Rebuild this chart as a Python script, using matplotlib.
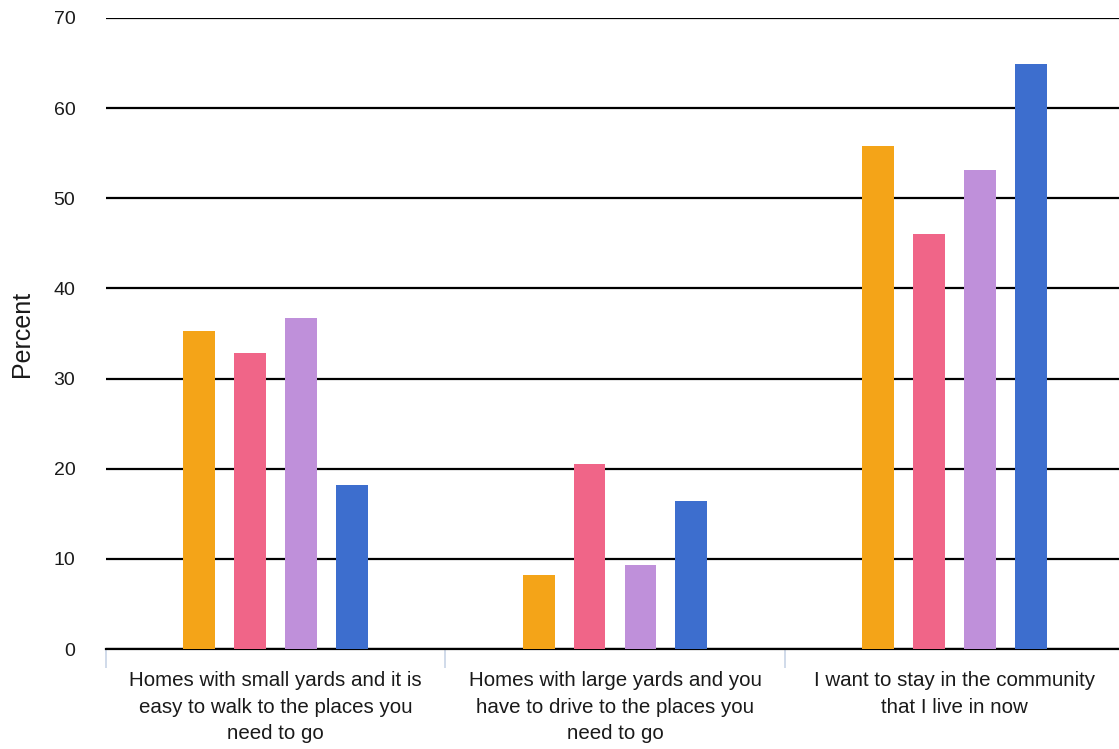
import numpy as np
import matplotlib
matplotlib.use("Agg")
import matplotlib.pyplot as plt

plt.rcParams['font.family'] = ['Liberation Sans', 'DejaVu Sans']

# Data
categories = [
    "Homes with small yards and it is\neasy to walk to the places you\nneed to go",
    "Homes with large yards and you\nhave to drive to the places you\nneed to go",
    "I want to stay in the community\nthat I live in now",
]
series_1 = [35.3, 8.2, 55.8]
series_2 = [32.8, 20.5, 46.0]
series_3 = [36.7, 9.3, 53.1]
series_4 = [18.2, 16.4, 64.9]
yticks = [0, 10, 20, 30, 40, 50, 60, 70]

colors = ["#F4A418", "#F06588", "#BF90DA", "#3D6ECE"]

fig = plt.figure(figsize=(11.19, 7.49), dpi=100)
# axis runs a little past the right edge of the figure
ax = fig.add_axes([106 / 1119, 1 - 649 / 749, (1124 - 106) / 1119, (649 - 18) / 749])

x = np.arange(len(categories))
width = 0.094
step = 0.15
for j, (vals, c) in enumerate(zip([series_1, series_2, series_3, series_4], colors)):
    ax.bar(x + (j - 1.5) * step, vals, width, color=c, zorder=3)

# gridlines
ax.set_ylim(0, 70)
ax.set_yticks(yticks)
ax.yaxis.grid(True, color="black", linewidth=1.6, zorder=1)
ax.set_axisbelow(True)

ax.set_xlim(-0.5, len(categories) - 0.5)
ax.set_xticks(x)
ax.set_xticklabels(categories, fontsize=14.8, linespacing=1.5, color="#1a1a1a")
ax.set_xticks(np.arange(len(categories)) - 0.5, minor=True)
ax.tick_params(axis="x", which="major", length=0, pad=16)
ax.tick_params(axis="x", which="minor", length=14, width=1.2, color="#C8D4E6", direction="out")
ax.tick_params(axis="y", length=0, pad=22, labelsize=14, labelcolor="#1a1a1a")

for s in ["top", "right", "left"]:
    ax.spines[s].set_visible(False)
ax.spines["bottom"].set_color("black")
ax.spines["bottom"].set_linewidth(1.6)

ax.set_ylabel("Percent", fontsize=18, color="#1a1a1a")
ax.yaxis.set_label_coords(-(106 - 34) / 1018, 0.5)

fig.savefig("out.png", dpi=100)
